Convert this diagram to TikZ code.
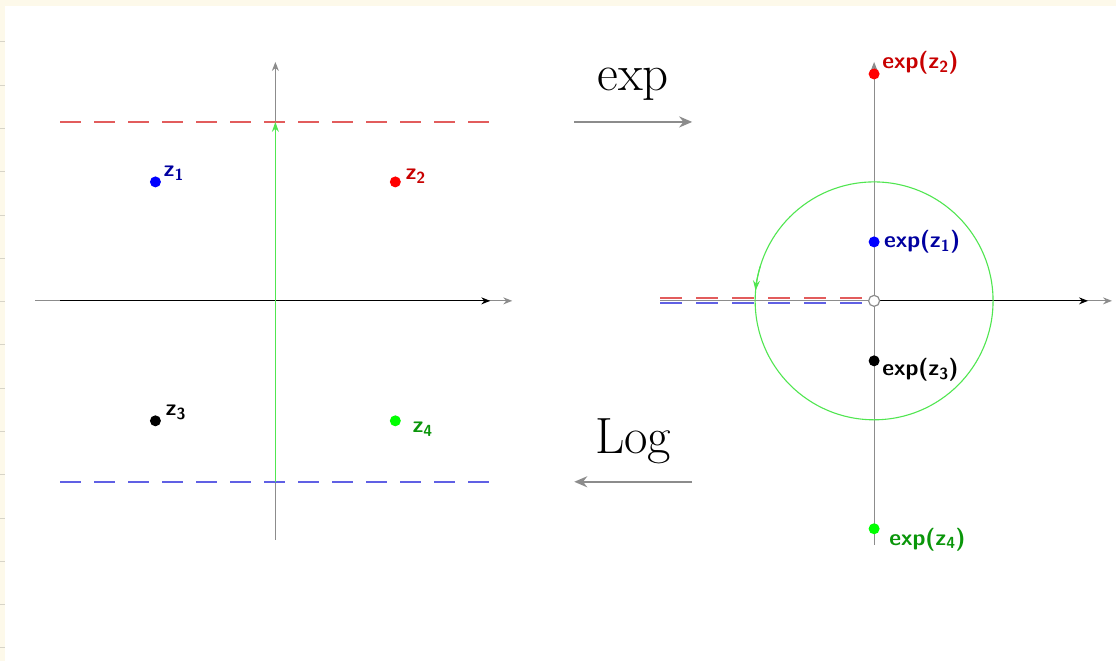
\documentclass[tikz,border=0pt]{standalone}
\usepackage{xcolor}
\usepackage{tikz}
\usetikzlibrary{positioning,arrows.meta,calc}
\definecolor{cxcream}{RGB}{253,249,234}
\definecolor{cxtick}{RGB}{215,212,200}
\definecolor{cxaxis}{RGB}{140,140,140}
\definecolor{cxred}{RGB}{226,92,92}
\definecolor{cxblue}{RGB}{96,96,228}
\definecolor{cxgreen}{RGB}{80,230,80}
\definecolor{cxdred}{RGB}{200,0,0}
\definecolor{cxdblue}{RGB}{0,0,160}
\definecolor{cxdgreen}{RGB}{10,150,10}
\newcommand{\zsub}[1]{z\textsubscript{#1}}

\begin{document}
\begin{tikzpicture}[x=1pt, y=1pt,
  axis/.style={draw=cxaxis, line width=1.1pt, -{Stealth[length=9pt, width=7pt]}},
  realax/.style={draw=black, line width=1.1pt, -{Stealth[length=9pt, width=7pt]}},
  cut/.style={line width=2pt, dash pattern=on 21pt off 13pt},
  dot/.style={circle, inner sep=0pt, minimum size=11pt},
  lab/.style={font=\fontsize{23}{27}\selectfont\sffamily\bfseries, inner sep=1pt},
  maparrow/.style={draw=cxaxis, line width=2.4pt, -{Stealth[length=13pt, width=11pt]}},
  mapname/.style={font=\fontsize{51}{58}\selectfont, inner sep=0pt},
]
% page
\fill[cxcream] (0,0) rectangle (1116,661);
\fill[white] (5,0) rectangle (1116,655);
\foreach \t in {0,...,14}
  \draw[cxtick, line width=1pt] (0,{619-43.3*\t}) -- (5,{619-43.3*\t});
\useasboundingbox (0,0) rectangle (1116,661);

% left plane
\coordinate (lO) at (275,360);
\draw[axis] (275,121) -- (275,599);
\draw[axis] (35,360) -- (512,360);
\draw[realax] (60,360) -- (490,360);
\draw[cut, cxred] (60,539) -- (490,539);
\draw[cut, cxblue] (60,179) -- (490,179);
\coordinate (gbot) at (275,179);
\coordinate (gtop) at (275,539);
\draw[cxgreen, line width=1.1pt, -{Stealth[length=10pt, width=7pt]}] (gbot) -- (gtop);

\node[dot, fill=blue] (z1) at (155,479) {};
\node[dot, fill=red] (z2) at (395,479) {};
\node[dot, fill=black] (z3) at (155,240) {};
\node[dot, fill=green] (z4) at (395,240) {};
\node[lab, text=cxdblue, above right=-4pt and 3pt of z1] {\zsub{1}};
\node[lab, text=cxdred, above right=-7pt and 5pt of z2] {\zsub{2}};
\node[lab, text=black, above right=-4pt and 5pt of z3] {\zsub{3}};
\node[lab, text=cxdgreen, below right=-4pt and 12pt of z4] {\zsub{4}};

% maps
\coordinate (expA) at (574,539);
\coordinate (expB) at (692,539);
\coordinate (logA) at (692,179);
\coordinate (logB) at (574,179);
\draw[maparrow] (expA) -- node[mapname, above=20pt] {exp} (expB);
\draw[maparrow] (logA) -- node[mapname, above=17pt] {Log} (logB);

% right plane
\coordinate (rO) at (874,360);
\draw[axis] (874,116) -- (874,599);
\draw[axis] (660,360) -- (1112,360);
\draw[realax] (880,360) -- (1088,360);
\draw[cut, cxred, dash pattern=on 22pt off 14pt] (660,362.5) -- (862,362.5);
\draw[cut, cxblue, dash pattern=on 22pt off 14pt] (660,357.5) -- (862,357.5);
\draw[cxgreen, line width=1.1pt] (rO) circle[radius=119];
\draw[cxgreen, line width=1.1pt, -{Stealth[length=10pt, width=7pt]}]
  ($(rO)+(163:119)$) arc[start angle=163, end angle=175, radius=119];
\node[circle, draw=cxaxis, fill=white, line width=1.2pt, inner sep=0pt,
  minimum size=11pt] (orig) at (rO) {};

\node[dot, fill=red] (e2) at (874,587) {};
\node[dot, fill=blue] (e1) at (874,419) {};
\node[dot, fill=black] (e3) at (874,300) {};
\node[dot, fill=green] (e4) at (874,132) {};
\node[lab, text=cxdred, above right=-6pt and 3pt of e2] {exp(\zsub{2})};
\node[lab, text=cxdblue, right=3pt of e1] {exp(\zsub{1})};
\node[lab, text=black, below right=-8pt and 3pt of e3] {exp(\zsub{3})};
\node[lab, text=cxdgreen, below right=-6pt and 10pt of e4] {exp(\zsub{4})};
\end{tikzpicture}
\end{document}
